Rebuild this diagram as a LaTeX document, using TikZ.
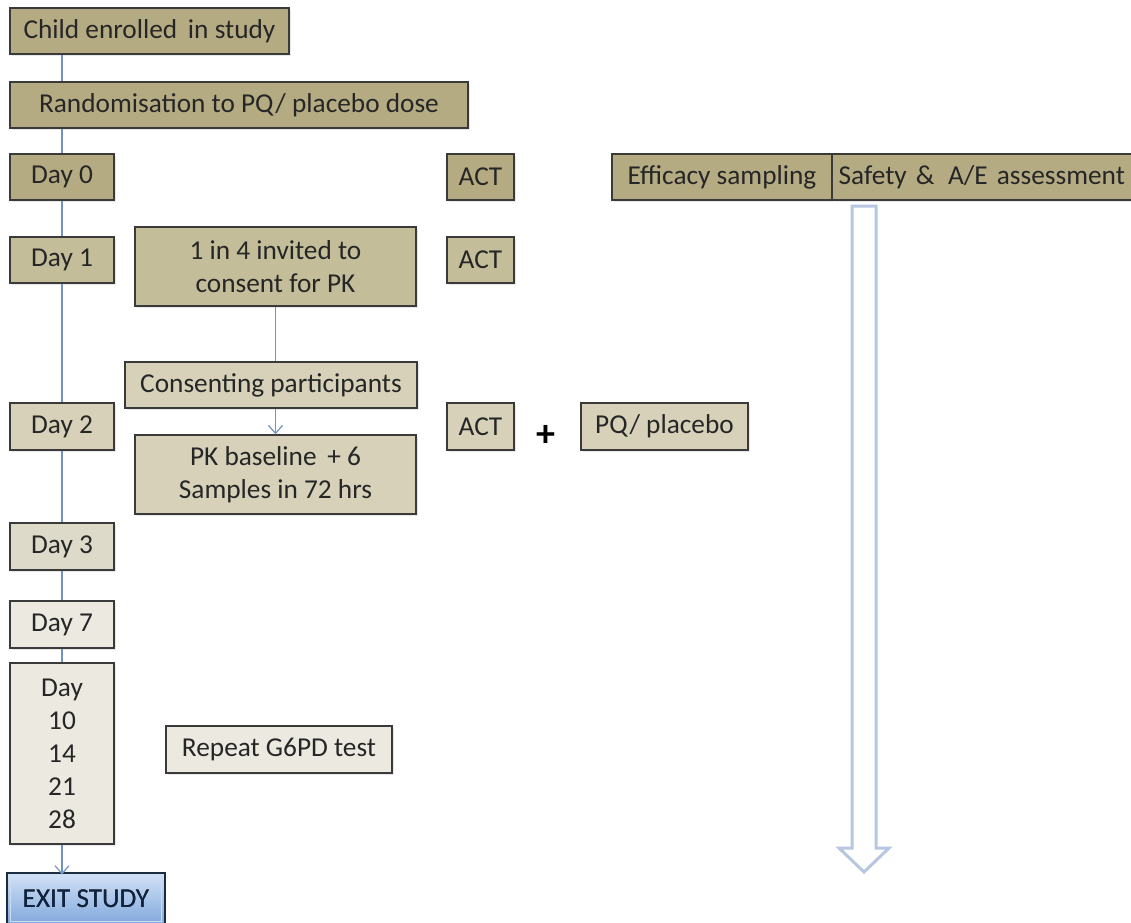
\documentclass[tikz,border=0pt]{standalone}
\usepackage{fontspec}
\setmainfont{Carlito}
\usetikzlibrary{arrows.meta,shadows}
\definecolor{tanA}{HTML}{B5AB83}
\definecolor{tanB}{HTML}{C4BD99}
\definecolor{tanC}{HTML}{D6D1B8}
\definecolor{tanD}{HTML}{DEDACA}
\definecolor{tanE}{HTML}{ECEAE0}
\definecolor{bdr}{HTML}{3A3A3A}
\definecolor{lnk}{HTML}{6F94C4}
\definecolor{txt}{HTML}{262626}
\definecolor{bigarr}{HTML}{B7C7E1}
\definecolor{exitA}{HTML}{D3E2F5}
\definecolor{exitB}{HTML}{7FA7DC}
\definecolor{exitbd}{HTML}{1C2B40}
\definecolor{exittx}{HTML}{10223C}
\begin{document}
\begin{tikzpicture}[x=1pt,y=-1pt,
  every node/.style={font=\fontsize{27.3}{33}\selectfont, text=txt},
  box/.style={draw=bdr, line width=1.4pt, inner sep=0pt, minimum height=46pt, align=center,
    drop shadow={opacity=0.18, shadow xshift=2pt, shadow yshift=-2pt}},
  conn/.style={draw=lnk, line width=1.3pt},
  arr/.style={conn, -{Straight Barb[length=8pt,width=14pt,line width=1.2pt]}}]
\useasboundingbox (0,0) rectangle (1131,922);
\fill[white] (0,0) rectangle (1131,922);
% big hollow arrow
\draw[bigarr, line width=3pt, fill=white, line join=miter]
  (852,206) -- (876,206) -- (876,848) -- (889,848) -- (864,872) -- (839,848) -- (852,848) -- cycle;
% left column
\node[box, fill=tanA, minimum width=279pt] (child) at (149.5,31) {Child enrolled\, in study};
\node[box, fill=tanA, minimum width=458pt] (rand) at (239,105) {Randomisation to PQ/ placebo dose};
\node[box, fill=tanA, minimum width=104pt] (day0) at (62,177) {Day 0};
\node[box, fill=tanB, minimum width=104pt] (day1) at (62,260) {Day 1};
\node[box, fill=tanC, minimum width=104pt, minimum height=47pt] (day2) at (62,426.5) {Day 2};
\node[box, fill=tanD, minimum width=104pt, minimum height=47pt] (day3) at (62,546.5) {Day 3};
\node[box, fill=tanE, minimum width=104pt, minimum height=47pt] (day7) at (62,624.5) {Day 7};
\node[box, fill=tanE, minimum width=104pt, minimum height=181pt] (day10) at (62,753.5) {Day\\10\\14\\21\\28};
\node[draw=exitbd, line width=2.8pt, top color=exitA, bottom color=exitB, minimum width=158pt, minimum height=52pt, inner sep=0pt,
  text=exittx] (exit) at (86,899) {EXIT STUDY};
\draw[white!60!exitB, line width=1.2pt] ([shift={(5pt,-5pt)}]exit.north west) rectangle ([shift={(-5pt,5pt)}]exit.south east);
\node[text=exittx, inner sep=0pt] at (exit.center) {EXIT STUDY};
% middle column
\node[box, fill=tanB, minimum width=281pt, minimum height=79pt] (in4) at (275.5,266.5) {1 in 4 invited to\\consent for PK};
\node[box, fill=tanC, minimum width=292pt] (cons) at (271,385) {Consenting participants};
\node[box, fill=tanC, minimum width=281pt, minimum height=79pt] (pk) at (275.5,474.5) {PK baseline\, + 6\\Samples in 72 hrs};
\node[box, fill=tanE, minimum width=226pt, minimum height=47pt] (g6pd) at (279,749.5) {Repeat G6PD test};
% ACT column
\node[box, fill=tanA, minimum width=67pt] (act0) at (480.5,177) {ACT};
\node[box, fill=tanB, minimum width=67pt] (act1) at (480.5,260) {ACT};
\node[box, fill=tanC, minimum width=67pt, minimum height=47pt] (act2) at (480.5,426.5) {ACT};
\node[font=\fontsize{38}{38}\bfseries, inner sep=0pt, text=black] (plus) at (546,436) {+};
\node[box, fill=tanC, minimum width=167pt, minimum height=47pt] (pq) at (664.5,426.5) {PQ/ placebo};
% right
\node[box, fill=tanA, minimum width=220pt] (eff) at (722,177) {Efficacy sampling};
\node[box, fill=tanA, minimum width=308pt, text width=296pt, inner xsep=6pt, align=left, anchor=west] (safe) at (832,177) {Safety \&\, A/E assessment};
% connectors
\draw[conn] (child.south -| day0.center) -- (rand.north -| day0.center);
\draw[conn] (rand.south -| day0.center) -- (day0.north);
\draw[conn] (day0.south) -- (day1.north);
\draw[conn] (day1.south) -- (day2.north);
\draw[conn] (day2.south) -- (day3.north);
\draw[conn] (day3.south) -- (day7.north);
\draw[conn] (day7.south) -- (day10.north);
\draw[arr] (day10.south) -- ([yshift=-3pt]exit.north -| day10.south);
\draw[conn] (in4.south) -- (cons.north -| in4.south);
\draw[arr] (cons.south -| in4.south) -- (pk.north -| in4.south);
\end{tikzpicture}
\end{document}
